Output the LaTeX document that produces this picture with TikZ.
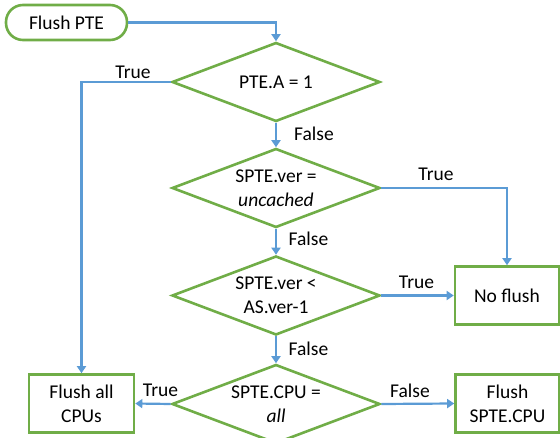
\documentclass[tikz,border=0pt]{standalone}
\usepackage{fontspec}
\setmainfont{Carlito}
\usetikzlibrary{shapes.geometric,arrows.meta}
\definecolor{boxgreen}{RGB}{112,173,71}
\definecolor{flowblue}{RGB}{91,155,213}

\begin{document}
\begin{tikzpicture}[x=1pt,y=-1pt,
    txt/.style={font=\fontsize{19.5}{24}\selectfont, align=center},
    decision/.style={txt, diamond, draw=boxgreen, line width=2.6pt, inner sep=0pt,
        shape aspect=2.6, minimum width=208pt, minimum height=79pt},
    action/.style={txt, rectangle, draw=boxgreen, line width=2.6pt,
        minimum width=104pt, minimum height=58pt},
    terminal/.style={txt, rectangle, rounded corners=17pt, draw=boxgreen,
        line width=2.6pt, minimum width=121pt, minimum height=35pt},
    flow/.style={draw=flowblue, line width=2.2pt, -{Triangle[width=9pt,length=7pt]}},
    branch/.style={txt, inner sep=0pt}]
    \useasboundingbox (0,0) rectangle (560,438);
    % start and the four tests
    \node[terminal] (start) at (66.5,22.5) {Flush PTE};
    \node[decision] (testA) at (276,82) {PTE.A = 1};
    \node[decision] (testUncached) at (276,188) {SPTE.ver =\\\textit{uncached}};
    \node[decision] (testOld) at (276,295.5) {SPTE.ver <\\AS.ver-1};
    \node[decision] (testCpu) at (276,404) {SPTE.CPU =\\\textit{all}};
    % outcomes
    \node[action] (noFlush) at (507,295.5) {No flush};
    \node[action, minimum width=105pt] (flushAll) at (81.5,403.5) {Flush all\\CPUs};
    \node[action] (flushOne) at (507.5,403.5) {Flush\\SPTE.CPU};
    % connectors
    \draw[flow] (start.east) -| (testA.north);
    \draw[flow] (testA.west) -| (flushAll.north);
    \draw[flow] (testA.south) -- (testUncached.north);
    \draw[flow] (testUncached.east) -| (noFlush.north);
    \draw[flow] (testUncached.south) -- (testOld.north);
    \draw[flow] (testOld.east) -- (noFlush.west);
    \draw[flow] (testOld.south) -- (testCpu.north);
    \draw[flow] (testCpu.west) -- (flushAll.east);
    \draw[flow] (testCpu.east) -- (flushOne.west);
    % branch labels
    \node[branch] (lblA) at (133,72) {True};
    \node[branch] (lblAf) at (314,134) {False};
    \node[branch] (lblU) at (436,174) {True};
    \node[branch] (lblUf) at (308.5,239) {False};
    \node[branch] (lblO) at (416.5,282) {True};
    \node[branch] (lblOf) at (308.5,349) {False};
    \node[branch] (lblC) at (160.5,390) {True};
    \node[branch] (lblCf) at (410,391) {False};
\end{tikzpicture}
\end{document}
